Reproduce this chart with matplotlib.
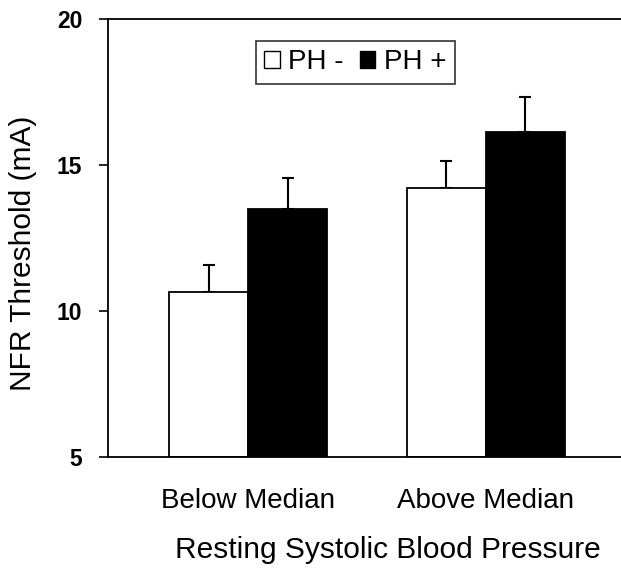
import matplotlib
matplotlib.use("Agg")
import matplotlib.pyplot as plt
from matplotlib.patches import Patch
from matplotlib import font_manager
import numpy as np

plt.rcParams['font.family'] = ['Liberation Sans', 'DejaVu Sans']
names = {f.name for f in font_manager.fontManager.ttflist}
narrow = 'Liberation Sans Narrow' if 'Liberation Sans Narrow' in names else 'Liberation Sans'

categories = ["Below Median", "Above Median"]
series_names = ["PH -", "PH +"]
ph_minus = [10.65, 14.22]
ph_minus_err = [0.93, 0.93]
ph_plus = [13.49, 16.13]
ph_plus_err = [1.06, 1.20]
yticks = [5, 10, 15, 20]

fig = plt.figure(figsize=(6.21, 5.72), dpi=100)
ax = fig.add_axes([0.174, 0.201, 0.826, 0.766])

x = np.arange(len(categories))
w = 0.333
ax.bar(x - w/2, np.array(ph_minus) - 5, bottom=5, width=w, color='white',
       edgecolor='black', linewidth=1.3, zorder=2)
ax.bar(x + w/2, np.array(ph_plus) - 5, bottom=5, width=w, color='black',
       edgecolor='black', linewidth=1.3, zorder=2)
ax.errorbar(x - w/2, ph_minus, yerr=[np.zeros(2), ph_minus_err], fmt='none',
            ecolor='black', elinewidth=1.5, capsize=4, capthick=1.5, zorder=1)
ax.errorbar(x + w/2, ph_plus, yerr=[np.zeros(2), ph_plus_err], fmt='none',
            ecolor='black', elinewidth=1.5, capsize=4, capthick=1.5, zorder=1)

ax.set_ylim(5, 20)
ax.set_xlim(-0.591, 1.570)
ax.set_yticks(yticks)
ax.set_yticklabels([str(t) for t in yticks], fontsize=16.5, fontweight='bold')
ax.tick_params(axis='y', direction='out', length=6.5, width=1.2, pad=12)
ax.set_xticks(x)
ax.set_xticklabels(categories, fontsize=20)
ax.tick_params(axis='x', length=0, pad=22)

ax.spines['right'].set_visible(False)
for s in ['left', 'top', 'bottom']:
    ax.spines[s].set_linewidth(1.3)

ax.set_ylabel("NFR Threshold (mA)", fontsize=21.5)
ax.yaxis.set_label_coords(-0.139, 0.465)
ax.set_xlabel("Resting Systolic Blood Pressure", fontsize=21.5)
ax.xaxis.set_label_coords(0.545, -0.18)
ax.xaxis.label.set_va('top')

handles = [Patch(facecolor='white', edgecolor='black', linewidth=1),
           Patch(facecolor='black', edgecolor='black', linewidth=1)]
leg = ax.legend(handles, series_names, loc='center', bbox_to_anchor=(0.482, 0.9007),
                ncol=2, frameon=True, fancybox=False,
                prop={'family': narrow, 'size': 20},
                handlelength=0.55, handleheight=0.55, handletextpad=0.3,
                columnspacing=0.6, borderpad=0.3, borderaxespad=0)
leg.get_frame().set_edgecolor('black')
leg.get_frame().set_linewidth(1.2)

fig.savefig("out.png", dpi=100)
